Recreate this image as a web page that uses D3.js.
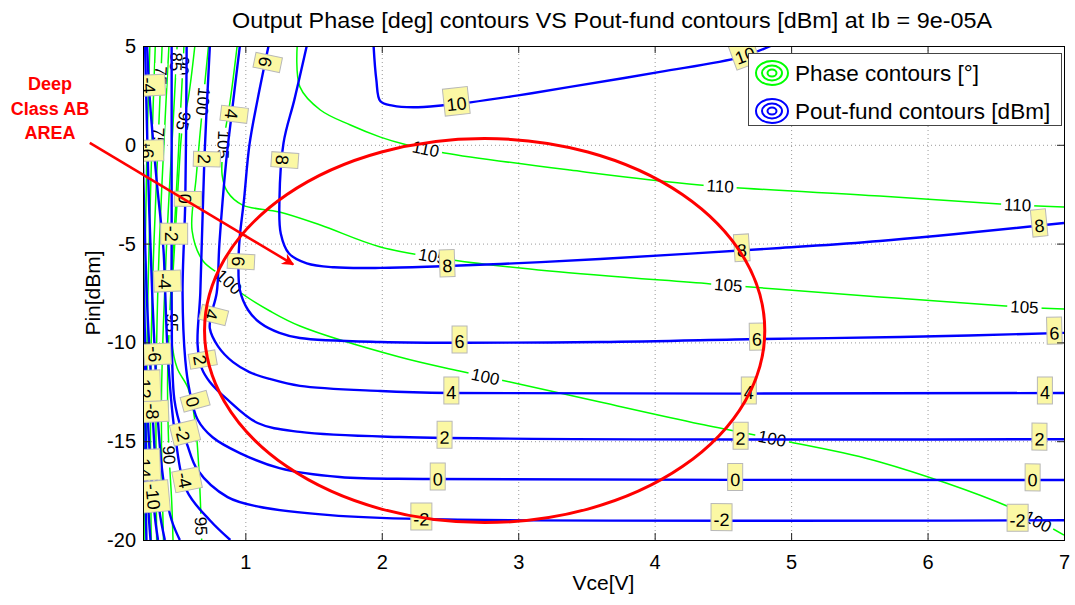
<!DOCTYPE html>
<html>
<head>
<meta charset="utf-8">
<script src="https://cdn.jsdelivr.net/npm/d3@7"></script>
<style>
  body { margin: 0; background: #fff; }
  svg text { font-family: "Liberation Sans", Arial, Helvetica, sans-serif; }
</style>
</head>
<body>
<svg id="chart" width="1075" height="605"></svg>
<script>
// ---- axis ticks ----
const xTicks = [1, 2, 3, 4, 5, 6, 7];
const yTicks = [5, 0, -5, -10, -15, -20];

// ---- Pout-fund contours [dBm]: points are [Vce (V), Pin (dBm)] ----
const pout10 = [[1.94,5],[1.96,3.3],[1.99,2.2],[2.08,1.98],[2.23,1.9],[2.45,2.0],[2.65,2.15],[3.0,2.5],[3.38,2.93],[4.04,3.69],[4.63,4.44],[4.85,5]];
const pout8 = [[1.45,5],[1.36,2.3],[1.28,0.1],[1.25,-2.8],[1.26,-4.5],[1.32,-5.5],[1.45,-6.0],[1.65,-6.2],[1.99,-6.23],[2.87,-6.03],[3.6,-5.78],[4.92,-5.22],[5.65,-4.87],[7.0,-3.96]];
const pout6 = [[1.17,5],[1.09,2.3],[1.03,0],[0.99,-2.8],[0.96,-4.6],[0.95,-5.9],[0.96,-7.35],[1.02,-8.36],[1.11,-9.02],[1.25,-9.52],[1.4,-9.78],[1.99,-9.98],[3.6,-9.98],[4.77,-9.83],[5.8,-9.73],[7.0,-9.52]];
const pout4 = [[0.96,5],[0.93,3.3],[0.9,1.56],[0.86,-0.8],[0.81,-5.0],[0.79,-7.5],[0.75,-8.6],[0.74,-9.3],[0.8,-10.2],[0.91,-11.0],[1.03,-11.5],[1.18,-11.85],[1.4,-12.2],[1.99,-12.46],[2.5,-12.56],[7.0,-12.56]];
const pout2 = [[0.74,5],[0.7,-0.7],[0.67,-7.5],[0.65,-10.1],[0.68,-11.3],[0.74,-12.0],[0.87,-12.9],[1.09,-14.08],[1.4,-14.53],[2.13,-14.79],[7.0,-14.9]];
const pout0 = [[0.57,5],[0.56,-2.8],[0.54,-7.5],[0.56,-10.9],[0.59,-12.4],[0.65,-13.9],[0.76,-14.8],[0.96,-15.6],[1.25,-16.36],[1.69,-16.81],[2.35,-16.91],[7.0,-16.96]];
const poutM2 = [[0.46,5],[0.46,-4.5],[0.46,-7.85],[0.48,-12.9],[0.54,-14.6],[0.57,-15.1],[0.65,-16.46],[0.87,-17.83],[1.11,-18.33],[1.62,-18.74],[2.28,-18.94],[7.0,-19.0]];
const poutM4 = [[0.28,5],[0.3,2.3],[0.35,-1.8],[0.4,-5.3],[0.41,-6.9],[0.43,-10.4],[0.48,-14.4],[0.57,-17.5],[0.74,-19.0],[0.89,-20]];
const poutM6 = [[0.265,5],[0.29,-2],[0.32,-8],[0.34,-11],[0.36,-14],[0.4,-17],[0.46,-19],[0.52,-20]];
const poutM8 = [[0.25,-1],[0.28,-8],[0.31,-12],[0.32,-13.5],[0.34,-16],[0.37,-18.5],[0.41,-20]];
const poutM10 = [[0.25,-6],[0.27,-11],[0.29,-14.5],[0.32,-17.5],[0.34,-19],[0.36,-20]];
const poutM12 = [[0.25,-10],[0.26,-12.2],[0.275,-16],[0.29,-18.5],[0.305,-20]];
const poutM14 = [[0.25,-14.5],[0.26,-16.5],[0.27,-18.5],[0.275,-20]];

const poutLevels = [10, 8, 6, 4, 2, 0, -2, -4, -6, -8, -10, -12, -14];
const poutLines = [pout10, pout8, pout6, pout4, pout2, pout0, poutM2, poutM4, poutM6, poutM8, poutM10, poutM12, poutM14];

// contour labels: [level, Vce, Pin]
const poutLabels = [
  [10,2.55,1.95],[10,4.66,4.55],
  [8,1.28,-0.77],[8,2.48,-6.2],[8,4.64,-5.4],[8,6.82,-4.1],
  [6,1.14,4.2],[6,0.95,-5.9],[6,2.57,-9.98],[6,4.75,-9.85],[6,6.93,-9.55],
  [4,0.9,1.56],[4,0.76,-8.6],[4,2.51,-12.56],[4,4.69,-12.56],[4,6.86,-12.56],
  [2,0.7,-0.72],[2,0.66,-10.9],[2,2.46,-14.8],[2,4.63,-14.87],[2,6.82,-14.9],
  [0,0.57,-2.74],[0,0.62,-13.0],[0,2.41,-16.92],[0,4.59,-16.94],[0,6.77,-16.96],
  [-2,0.46,-4.5],[-2,0.54,-14.6],[-2,2.29,-18.95],[-2,4.49,-18.98],[-2,6.66,-19.0],
  [-4,0.28,3.0],[-4,0.41,-6.9],[-4,0.54,-17.0],
  [-6,0.34,-10.6],[-6,0.28,-0.3],
  [-8,0.32,-13.5],
  [-10,0.33,-17.8],
  [-12,0.26,-12.2],
  [-14,0.26,-16.2]
];

// ---- Output phase contours [deg] ----
const phase110 = [[1.38,5],[1.4,2.93],[1.55,1.76],[1.77,1.0],[1.99,0.39],[2.18,0],[2.46,-0.41],[3.38,-1.28],[4.33,-2.03],[5.65,-2.59],[6.53,-3.0],[7.0,-3.15]];
const phase105 = [[0.94,5],[0.89,2.27],[0.84,0.04],[0.83,-1.53],[0.87,-2.39],[0.98,-3.05],[1.25,-3.4],[1.55,-4.06],[1.99,-5.17],[2.52,-5.83],[3.23,-6.39],[4.41,-7.04],[5.65,-7.7],[6.57,-8.16],[7.0,-8.31]];
const phase100 = [[0.73,5],[0.69,2.17],[0.64,-1.63],[0.61,-4.36],[0.69,-5.88],[0.84,-6.69],[0.96,-7.45],[1.18,-8.41],[1.4,-9.17],[2.13,-10.74],[2.57,-11.45],[2.94,-12.0],[3.6,-13.02],[4.33,-14.13],[4.99,-15.04],[5.65,-16.05],[6.6,-18.33],[7.0,-19.75]];
const phase95 = [[0.63,5],[0.58,2.27],[0.54,1.0],[0.51,-1.78],[0.48,-5.32],[0.46,-7.85],[0.46,-9.88],[0.5,-11.3],[0.58,-12.31],[0.63,-13.93],[0.66,-16.46],[0.68,-20]];
const phase90 = [[0.55,5],[0.52,1],[0.49,-3],[0.45,-8],[0.43,-12],[0.44,-15.5],[0.46,-18],[0.47,-20]];
const phase85 = [[0.5,5],[0.47,1],[0.43,-4],[0.4,-9],[0.385,-13],[0.39,-17],[0.4,-20]];
const phase80 = [[0.44,5],[0.41,1],[0.37,-5],[0.35,-10],[0.345,-15],[0.35,-20]];
const phase75 = [[0.39,5],[0.36,0],[0.33,-5],[0.31,-10],[0.305,-15],[0.31,-20]];
const phase70 = [[0.34,5],[0.315,0],[0.295,-5],[0.28,-10],[0.275,-20]];
const phase65 = [[0.3,5],[0.28,0],[0.265,-6],[0.258,-20]];

const phaseLevels = [110, 105, 100, 95, 90, 85, 80, 75, 70, 65];
const phaseLines = [phase110, phase105, phase100, phase95, phase90, phase85, phase80, phase75, phase70, phase65];

const phaseLabels = [
  [110,2.32,-0.3],[110,4.48,-2.1],[110,6.66,-3.1],
  [105,0.84,0.0],[105,2.37,-5.7],[105,4.54,-7.1],[105,6.71,-8.2],
  [100,0.69,2.2],[100,0.87,-7.0],[100,2.76,-11.7],[100,4.86,-14.9],[100,6.82,-18.9],
  [95,0.55,1.2],[95,0.46,-9.0],[95,0.67,-19.3],
  [90,0.54,4.0],[90,0.44,-15.7],
  [85,0.49,4.2],
  [75,0.37,0.4],[75,0.38,3.5]
];

// ---- annotation ----
const annotationLines = ["Deep", "Class AB", "AREA"];
const classAbRegion = { vce: 2.754, pin: -9.40, dv: 2.053, dp: 9.72 };
const arrowFrom = [-0.14, 0.1];
const arrowTo = [1.35, -6.05];

const legendItems = [
  { label: "Phase contours [\u00b0]", color: "#00ff00" },
  { label: "Pout-fund contours [dBm]", color: "#0000ff" }
];

// ---- drawing ----
const svg = d3.select("#chart");
const x = d3.scaleLinear().domain([0.25, 7]).range([143, 1064]);
const y = d3.scaleLinear().domain([-20, 5]).range([540, 46]);
const [x0, x1] = x.range();
const [y1, y0] = y.range();

const line = d3.line()
  .x(d => x(d[0])).y(d => y(d[1]))
  .curve(d3.curveCatmullRom.alpha(0.5));

const defs = svg.append("defs");
defs.append("clipPath").attr("id", "plotClip")
  .append("rect").attr("x", x0).attr("y", y0).attr("width", x1 - x0).attr("height", y1 - y0);
defs.append("marker").attr("id", "arrowHead")
  .attr("viewBox", "0 0 10 10").attr("refX", 9).attr("refY", 5)
  .attr("markerUnits", "userSpaceOnUse").attr("markerWidth", 16).attr("markerHeight", 12)
  .attr("orient", "auto")
  .append("path").attr("d", "M0,0 L10,5 L0,10 L3,5 Z").attr("fill", "#ff0000");

svg.append("rect").attr("x", x0).attr("y", y0).attr("width", x1 - x0).attr("height", y1 - y0).attr("fill", "#fff");

// dotted grid
const grid = svg.append("g").attr("stroke", "#9a9a9a").attr("stroke-width", 1).attr("stroke-dasharray", "1,3");
grid.append("g").selectAll("line").data(xTicks.filter(v => v < 7)).join("line")
  .attr("x1", d => x(d) + 0.5).attr("x2", d => x(d) + 0.5).attr("y1", y0).attr("y2", y1);
grid.append("g").selectAll("line").data(yTicks.filter(v => v > -20 && v < 5)).join("line")
  .attr("x1", x0).attr("x2", x1).attr("y1", d => y(d) + 0.5).attr("y2", d => y(d) + 0.5);

const plot = svg.append("g").attr("clip-path", "url(#plotClip)");

// snap a label position onto its contour, returning pixel point and direction angle
function snap(pts, vx, vy) {
  const px = x(vx), py = y(vy);
  const p = pts.map(d => [x(d[0]), y(d[1])]);
  let best = null, bd = Infinity;
  for (let i = 0; i < p.length - 1; i++) {
    const [ax, ay] = p[i], [bx, by] = p[i + 1];
    const dx = bx - ax, dy = by - ay, L = dx * dx + dy * dy;
    let t = L ? ((px - ax) * dx + (py - ay) * dy) / L : 0;
    t = Math.max(0, Math.min(1, t));
    const qx = ax + t * dx, qy = ay + t * dy;
    const dd = (qx - px) ** 2 + (qy - py) ** 2;
    if (dd < bd) { bd = dd; best = { x: qx, y: qy, a: Math.atan2(dy, dx) * 180 / Math.PI }; }
  }
  return best;
}

// phase contours (green)
plot.append("g").selectAll("path").data(phaseLines).join("path")
  .attr("d", line).attr("fill", "none").attr("stroke", "#00ff00").attr("stroke-width", 1.5);

const phaseLabelG = plot.append("g");
phaseLabels.forEach(([lvl, vx, vy]) => {
  const s = snap(phaseLines[phaseLevels.indexOf(lvl)], vx, vy);
  const g = phaseLabelG.append("g").attr("transform", `translate(${s.x},${s.y}) rotate(${s.a})`);
  const t = g.append("text").attr("text-anchor", "middle").attr("dy", "0.35em")
    .attr("font-size", 17).attr("fill", "#000").text(lvl);
  const w = t.node().getComputedTextLength();
  g.insert("rect", "text").attr("x", -w / 2 - 3).attr("y", -6).attr("width", w + 6).attr("height", 12).attr("fill", "#fff");
});

// Pout contours (blue)
plot.append("g").selectAll("path").data(poutLines).join("path")
  .attr("d", line).attr("fill", "none").attr("stroke", "#0000ff").attr("stroke-width", 2.4);

const poutLabelG = plot.append("g");
poutLabels.forEach(([lvl, vx, vy]) => {
  const s = snap(poutLines[poutLevels.indexOf(lvl)], vx, vy);
  const g = poutLabelG.append("g").attr("transform", `translate(${s.x},${s.y}) rotate(${s.a})`);
  const t = g.append("text").attr("text-anchor", "middle").attr("dy", "0.36em")
    .attr("font-size", 18).attr("fill", "#000").text(lvl);
  const w = t.node().getComputedTextLength();
  g.insert("rect", "text").attr("x", -w / 2 - 2.5).attr("y", -16).attr("width", w + 5).attr("height", 27)
    .attr("fill", "#fbf8a4").attr("stroke", "#b8b8b8").attr("stroke-width", 1);
});

// axes: ticks point inward on all four sides
function styleAxis(g) {
  g.select(".domain").remove();
  g.selectAll(".tick line").attr("stroke", "#222");
  g.selectAll(".tick text").attr("font-size", 20).attr("fill", "#000")
    .attr("font-family", "'Liberation Sans', Arial, sans-serif");
}
svg.append("g").attr("transform", `translate(0,${y1})`)
  .call(d3.axisBottom(x).tickValues(xTicks).tickSize(-7).tickPadding(15).tickFormat(d => String(d))).call(styleAxis);
svg.append("g").attr("transform", `translate(0,${y0})`)
  .call(d3.axisTop(x).tickValues(xTicks).tickSize(-7).tickFormat(() => "")).call(styleAxis);
svg.append("g").attr("transform", `translate(${x0},0)`)
  .call(d3.axisLeft(y).tickValues(yTicks).tickSize(-7).tickPadding(7).tickFormat(d => String(d))).call(styleAxis);
svg.append("g").attr("transform", `translate(${x1},0)`)
  .call(d3.axisRight(y).tickValues(yTicks).tickSize(-7).tickFormat(() => "")).call(styleAxis);

svg.append("rect").attr("x", x0 + 0.5).attr("y", y0 + 0.5).attr("width", x1 - x0).attr("height", y1 - y0)
  .attr("fill", "none").attr("stroke", "#000").attr("stroke-width", 1);

// titles
svg.append("text").attr("x", 612).attr("y", 28).attr("text-anchor", "middle")
  .attr("font-size", 22).attr("textLength", 760).attr("lengthAdjust", "spacingAndGlyphs")
  .text("Output Phase [deg] contours VS Pout-fund contours [dBm] at Ib = 9e-05A");
svg.append("text").attr("x", (x0 + x1) / 2).attr("y", 590).attr("text-anchor", "middle")
  .attr("font-size", 21).text("Vce[V]");
svg.append("text").attr("transform", `translate(100,${(y0 + y1) / 2}) rotate(-90)`)
  .attr("text-anchor", "middle").attr("font-size", 21).text("Pin[dBm]");

// deep class AB annotation
svg.append("ellipse")
  .attr("cx", x(classAbRegion.vce)).attr("cy", y(classAbRegion.pin))
  .attr("rx", x(classAbRegion.vce + classAbRegion.dv) - x(classAbRegion.vce))
  .attr("ry", y(classAbRegion.pin - classAbRegion.dp) - y(classAbRegion.pin))
  .attr("fill", "none").attr("stroke", "#ff0000").attr("stroke-width", 3);
svg.append("line")
  .attr("x1", x(arrowFrom[0])).attr("y1", y(arrowFrom[1]))
  .attr("x2", x(arrowTo[0])).attr("y2", y(arrowTo[1]))
  .attr("stroke", "#ff0000").attr("stroke-width", 2.5).attr("marker-end", "url(#arrowHead)");
svg.append("g").selectAll("text").data(annotationLines).join("text")
  .attr("x", 50).attr("y", (d, i) => 90 + i * 24.5).attr("text-anchor", "middle")
  .attr("font-size", 18).attr("font-weight", "bold").attr("fill", "#ff0000").text(d => d);

// legend
const lg = svg.append("g");
lg.append("rect").attr("x", 748.5).attr("y", 53.5).attr("width", 313).attr("height", 72)
  .attr("fill", "#fff").attr("stroke", "#444").attr("stroke-width", 1);
const li = lg.selectAll("g").data(legendItems).join("g")
  .attr("transform", (d, i) => `translate(772,${73 + i * 38})`);
[[16, 12], [10, 7.5], [4.5, 3.5]].forEach(([rx, ry]) => {
  li.append("ellipse").attr("rx", rx).attr("ry", ry).attr("fill", "none")
    .attr("stroke", d => d.color).attr("stroke-width", 2);
});
li.append("text").attr("x", 23).attr("y", 8).attr("font-size", 22.5).attr("fill", "#000").text(d => d.label);
</script>
</body>
</html>
